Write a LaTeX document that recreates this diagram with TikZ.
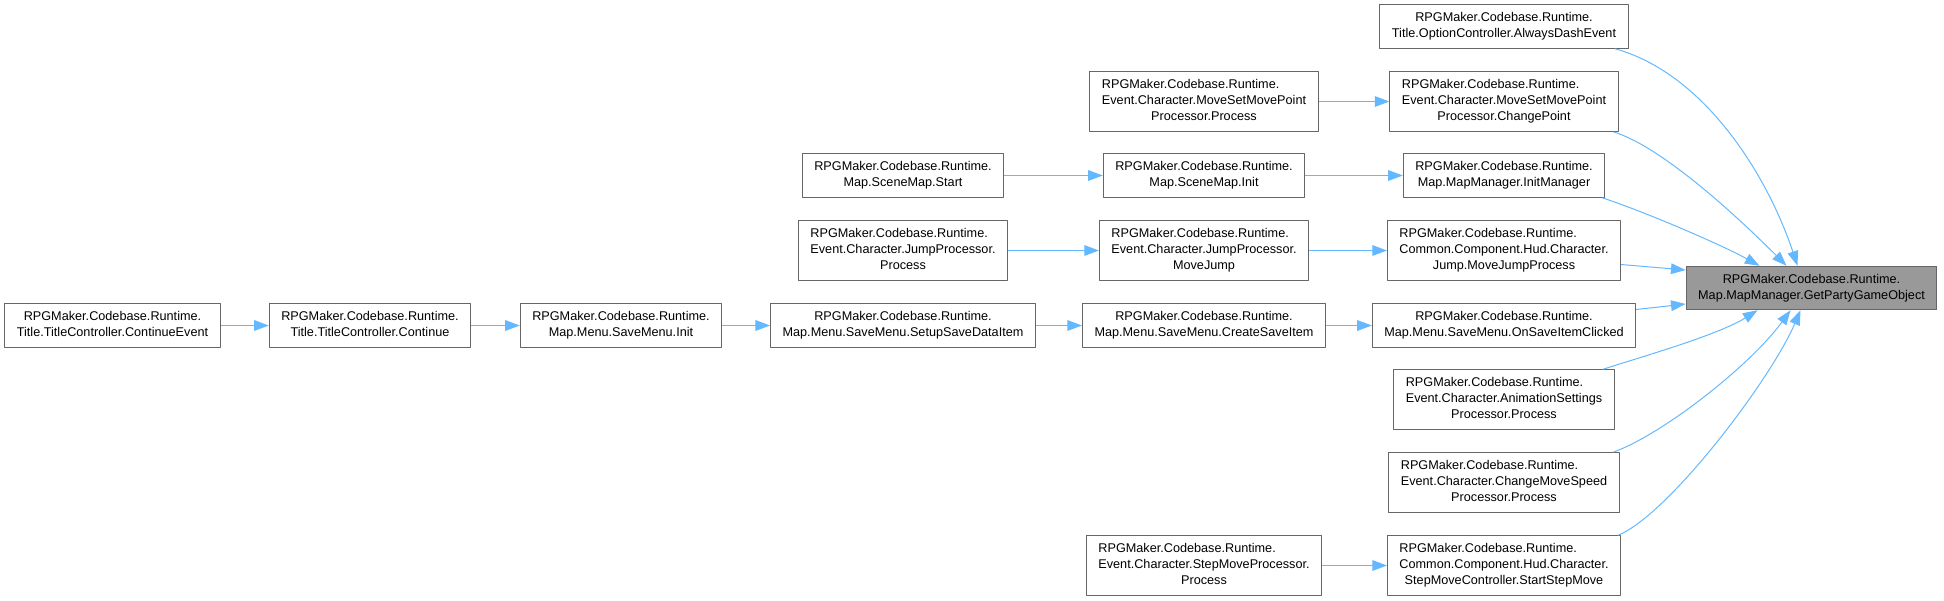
\documentclass[tikz,border=0pt]{standalone}
\usepackage{fontspec}
\setmainfont{Liberation Sans}
\usetikzlibrary{arrows.meta}
\definecolor{edgeblue}{HTML}{63B8FF}
\definecolor{boxline}{HTML}{666666}
\definecolor{hitfill}{HTML}{999999}
% first lines flush left, last line centred
\newcommand{\fnname}[2]{\begin{tabular}{@{}c@{}}\begin{tabular}[b]{@{}l@{}}#1\end{tabular}\\#2\end{tabular}}
\begin{document}
\begin{tikzpicture}[x=0.75pt, y=-0.75pt, font=\fontsize{9.5}{12}\selectfont, line join=round,
  >={Triangle[length=11pt,width=8pt]},
  fn/.style={draw=boxline, line width=0.75pt, fill=white, inner xsep=9pt, inner ysep=4.3pt},
  hit/.style={fn, fill=hitfill},
  edge/.style={->, draw=edgeblue, line width=0.75pt}]
\useasboundingbox (0,0) rectangle (1944,600);
\node[fn] (alwaysdash) at (1504,26.5) {\fnname{RPGMaker.Codebase.Runtime.}{Title.OptionController.AlwaysDashEvent}};
\node[fn] (msmpprocess) at (1204,101.5) {\fnname{RPGMaker.Codebase.Runtime.\\Event.Character.MoveSetMovePoint}{Processor.Process}};
\node[fn] (changepoint) at (1504,101.5) {\fnname{RPGMaker.Codebase.Runtime.\\Event.Character.MoveSetMovePoint}{Processor.ChangePoint}};
\node[fn] (scenestart) at (903,175.5) {\fnname{RPGMaker.Codebase.Runtime.}{Map.SceneMap.Start}};
\node[fn] (sceneinit) at (1204,175.5) {\fnname{RPGMaker.Codebase.Runtime.}{Map.SceneMap.Init}};
\node[fn] (initmanager) at (1504,175.5) {\fnname{RPGMaker.Codebase.Runtime.}{Map.MapManager.InitManager}};
\node[fn] (jumpprocess) at (903,250.5) {\fnname{RPGMaker.Codebase.Runtime.\\Event.Character.JumpProcessor.}{Process}};
\node[fn] (movejump) at (1204,250.5) {\fnname{RPGMaker.Codebase.Runtime.\\Event.Character.JumpProcessor.}{MoveJump}};
\node[fn] (movejumpprocess) at (1504,250.5) {\fnname{RPGMaker.Codebase.Runtime.\\Common.Component.Hud.Character.}{Jump.MoveJumpProcess}};
\node[hit] (getparty) at (1811.5,288) {\fnname{RPGMaker.Codebase.Runtime.}{Map.MapManager.GetPartyGameObject}};
\node[fn] (continueevent) at (112.5,325.5) {\fnname{RPGMaker.Codebase.Runtime.}{Title.TitleController.ContinueEvent}};
\node[fn] (titlecontinue) at (370,325.5) {\fnname{RPGMaker.Codebase.Runtime.}{Title.TitleController.Continue}};
\node[fn] (saveinit) at (621,325.5) {\fnname{RPGMaker.Codebase.Runtime.}{Map.Menu.SaveMenu.Init}};
\node[fn] (setupsave) at (903,325.5) {\fnname{RPGMaker.Codebase.Runtime.}{Map.Menu.SaveMenu.SetupSaveDataItem}};
\node[fn] (createsave) at (1204,325.5) {\fnname{RPGMaker.Codebase.Runtime.}{Map.Menu.SaveMenu.CreateSaveItem}};
\node[fn] (onsaveclicked) at (1504,325.5) {\fnname{RPGMaker.Codebase.Runtime.}{Map.Menu.SaveMenu.OnSaveItemClicked}};
\node[fn] (animsettings) at (1504,399.5) {\fnname{RPGMaker.Codebase.Runtime.\\Event.Character.AnimationSettings}{Processor.Process}};
\node[fn] (movespeed) at (1504,482.5) {\fnname{RPGMaker.Codebase.Runtime.\\Event.Character.ChangeMoveSpeed}{Processor.Process}};
\node[fn] (stepprocess) at (1204,565.5) {\fnname{RPGMaker.Codebase.Runtime.\\Event.Character.StepMoveProcessor.}{Process}};
\node[fn] (startstepmove) at (1504,565.5) {\fnname{RPGMaker.Codebase.Runtime.\\Common.Component.Hud.Character.}{StepMoveController.StartStepMove}};
% straight calls along a row
\foreach \a/\b in {msmpprocess/changepoint, scenestart/sceneinit, sceneinit/initmanager,
  jumpprocess/movejump, movejump/movejumpprocess, continueevent/titlecontinue,
  titlecontinue/saveinit, saveinit/setupsave, setupsave/createsave,
  createsave/onsaveclicked, stepprocess/startstepmove}
  \draw[edge] (\a) -- (\b);
% callers fanning into the target
\draw[edge] ([shift={(111,0)}]alwaysdash.south) .. controls +(90,25) and +(-30,-90) .. ([shift={(-14,0)}]getparty.north);
\draw[edge] ([shift={(109,0)}]changepoint.south) .. controls +(50,15) and +(-45,-45) .. ([shift={(-25,0)}]getparty.north);
\draw[edge] ([shift={(98,0)}]initmanager.south) .. controls +(40,13) and +(-40,-22) .. ([shift={(-52,0)}]getparty.north);
\draw[edge] ([shift={(0,14)}]movejumpprocess.east) -- ([shift={(0,-18)}]getparty.west);
\draw[edge] ([shift={(0,-16)}]onsaveclicked.east) -- ([shift={(0,16)}]getparty.west);
\draw[edge] ([shift={(99,0)}]animsettings.north) .. controls +(40,-13) and +(-40,25) .. ([shift={(-54,0)}]getparty.south);
\draw[edge] ([shift={(109,0)}]movespeed.north) .. controls +(50,-18) and +(-40,55) .. ([shift={(-21,0)}]getparty.south);
\draw[edge] ([shift={(114,0)}]startstepmove.north) .. controls +(50,-20) and +(-30,70) .. ([shift={(-11,0)}]getparty.south);
\end{tikzpicture}
\end{document}
